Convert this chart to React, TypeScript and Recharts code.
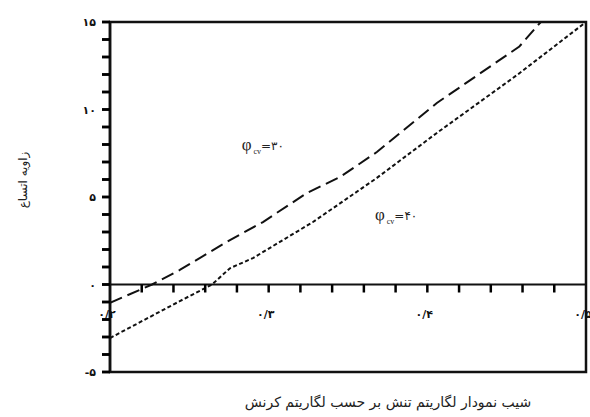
import React from 'react';
import { LineChart, Line, XAxis, YAxis, ReferenceLine, ReferenceArea, ReferenceDot } from 'recharts';

// φcv = 30 (long dashes)
const dashedX = [0.2, 0.2265, 0.244, 0.2756, 0.2964, 0.3241, 0.3449, 0.3682, 0.406, 0.458, 0.4715];
const dashedY = [-1.05, 0, 0.83, 2.54, 3.57, 5.23, 6.14, 7.57, 10.37, 13.6, 15];
// φcv = 40 (short dashes)
const dottedX = [0.2, 0.244, 0.2643, 0.2756, 0.2901, 0.3279, 0.3682, 0.406, 0.457, 0.5];
const dottedY = [-3.06, -0.95, 0, 0.93, 1.51, 3.57, 6.09, 8.66, 12.0, 15];

const yTicks = [-5, -4, -3, -2, -1, 0, 1, 2, 3, 4, 5, 6, 7, 8, 9, 10, 11, 12, 13, 14, 15];
const xMinorTicks = [0.22, 0.24, 0.26, 0.28, 0.3, 0.32, 0.34, 0.36, 0.38, 0.4, 0.42, 0.44, 0.46, 0.48];
const xLabelValues = [0.2, 0.3, 0.4, 0.5];
const xLabelTexts = ['۰/۲', '۰/۳', '۰/۴', '۰/۵'];

const yTitle = 'زاویه اتساع';
const xTitle = 'شیب نمودار لگاریتم تنش بر حسب لگاریتم کرنش';
const note30 = { x: 0.283, y: 7.97, value: '=۳۰' };
const note40 = { x: 0.367, y: 3.97, value: '=۴۰' };

const dashedData = dashedX.map((x, i) => ({ x, y: dashedY[i] }));
const dottedData = dottedX.map((x, i) => ({ x, y: dottedY[i] }));

const FONT = 'DejaVu Sans';
const TICK_SIZE = 8;
const TICK_MARGIN = 6;
const toFa = (v: number) => String(v).replace(/\d/g, (d) => '۰۱۲۳۴۵۶۷۸۹'[Number(d)]);

const YTick = (props: any) => {
  const x = Number(props.x);
  const y = Number(props.y);
  const { payload } = props;
  const x1 = x + TICK_MARGIN;
  return (
    <g>
      <path d={`M${x1},${y}H${x1 + TICK_SIZE}`} stroke="#000" strokeWidth={2.5} fill="none" />
      {payload.value % 5 === 0 ? (
        <text x={x} y={y} dy={4} textAnchor="end" fontFamily={FONT} fontSize={11} fill="#111" fontWeight="bold">
          {toFa(payload.value)}
        </text>
      ) : null}
    </g>
  );
};

const phiLabel = (value: string) => (props: any) => {
  const vb = props.viewBox || {};
  const cx = (vb.x ?? 0) + (vb.width ?? 0) / 2;
  const cy = (vb.y ?? 0) + (vb.height ?? 0) / 2;
  return (
    <text x={cx} y={cy + 5} fontFamily="Liberation Serif" fill="#222">
      <tspan fontSize={17}>φ</tspan>
      <tspan fontSize={8} dy={4} dx={2}>cv</tspan>
      <tspan fontSize={12} dy={-4} fontFamily={FONT}>{value}</tspan>
    </text>
  );
};

const minorTickLabel = (props: any) => {
  const vb = props.viewBox || {};
  const cx = (vb.x ?? 0) + (vb.width ?? 0) / 2;
  const cy = (vb.y ?? 0) + (vb.height ?? 0) / 2;
  return <path d={`M${cx},${cy}V${cy + 8}`} stroke="#000" strokeWidth={2.5} fill="none" />;
};

export default function App() {
  return (
    <div style={{ position: 'absolute', left: 0, top: 0, width: 590, height: 417, background: '#fff' }}>
      <LineChart width={590} height={417} margin={{ top: 22, right: 4, bottom: 0, left: 0 }}>
        <XAxis
          type="number"
          dataKey="x"
          domain={[0.2, 0.5]}
          allowDataOverflow
          tick={false}
          axisLine={false}
          tickLine={false}
          height={45}
          label={{
            content: (p: any) => {
              const vb = p.viewBox || {};
              return (
                <text x={vb.x + vb.width / 2 + 40} y={vb.y + 35} textAnchor="middle" fontFamily={FONT} fontSize={14} fill="#222">
                  {xTitle}
                </text>
              );
            },
          }}
        />
        <YAxis
          type="number"
          domain={[-5, 15]}
          ticks={yTicks}
          interval={0}
          allowDataOverflow
          width={110}
          tick={YTick}
          tickSize={TICK_SIZE}
          tickMargin={TICK_MARGIN}
          axisLine={{ stroke: '#111', strokeWidth: 2.5 }}
          tickLine={{ stroke: '#000', strokeWidth: 2.5 }}
          label={{
            content: (p: any) => {
              const vb = p.viewBox || {};
              const lx = vb.x + 27;
              const ly = vb.y + vb.height / 2 - 17;
              return (
                <text x={lx} y={ly} textAnchor="middle" transform={`rotate(-90, ${lx}, ${ly})`} fontFamily={FONT} fontSize={12} fill="#222">
                  {yTitle}
                </text>
              );
            },
          }}
        />
        <ReferenceArea x1={0.2} x2={0.5} y1={-5} y2={15} fill="none" fillOpacity={0} stroke="#111" strokeWidth={2.5} />
        <ReferenceLine y={0} stroke="#111" strokeWidth={2} />
        {xMinorTicks.map((t) => (
          <ReferenceDot key={t} x={t} y={0} r={1} fill="none" stroke="none" label={{ content: minorTickLabel }} />
        ))}
        {xLabelValues.map((v, i) => (
          <ReferenceDot
            key={'l' + v}
            x={v}
            y={0}
            r={1}
            fill="none"
            stroke="none"
            label={{
              content: (p: any) => {
                const vb = p.viewBox || {};
                const cx = vb.x + (vb.width || 0) / 2 - 3;
                const cy = vb.y + (vb.height || 0) / 2;
                return (
                  <text x={cx} y={cy + 33} textAnchor="middle" fontFamily={FONT} fontSize={11} fontWeight="bold" fill="#111">
                    {xLabelTexts[i]}
                  </text>
                );
              },
            }}
          />
        ))}
        <ReferenceDot x={note30.x} y={note30.y} r={1} fill="none" stroke="none" label={{ content: phiLabel(note30.value) }} />
        <ReferenceDot x={note40.x} y={note40.y} r={1} fill="none" stroke="none" label={{ content: phiLabel(note40.value) }} />
        <Line
          data={dashedData}
          dataKey="y"
          type="linear"
          stroke="#111"
          strokeWidth={2}
          strokeDasharray="13 6"
          dot={false}
          isAnimationActive={false}
        />
        <Line
          data={dottedData}
          dataKey="y"
          type="linear"
          stroke="#111"
          strokeWidth={2}
          strokeDasharray="4 2.5"
          dot={false}
          isAnimationActive={false}
        />
      </LineChart>
    </div>
  );
}
